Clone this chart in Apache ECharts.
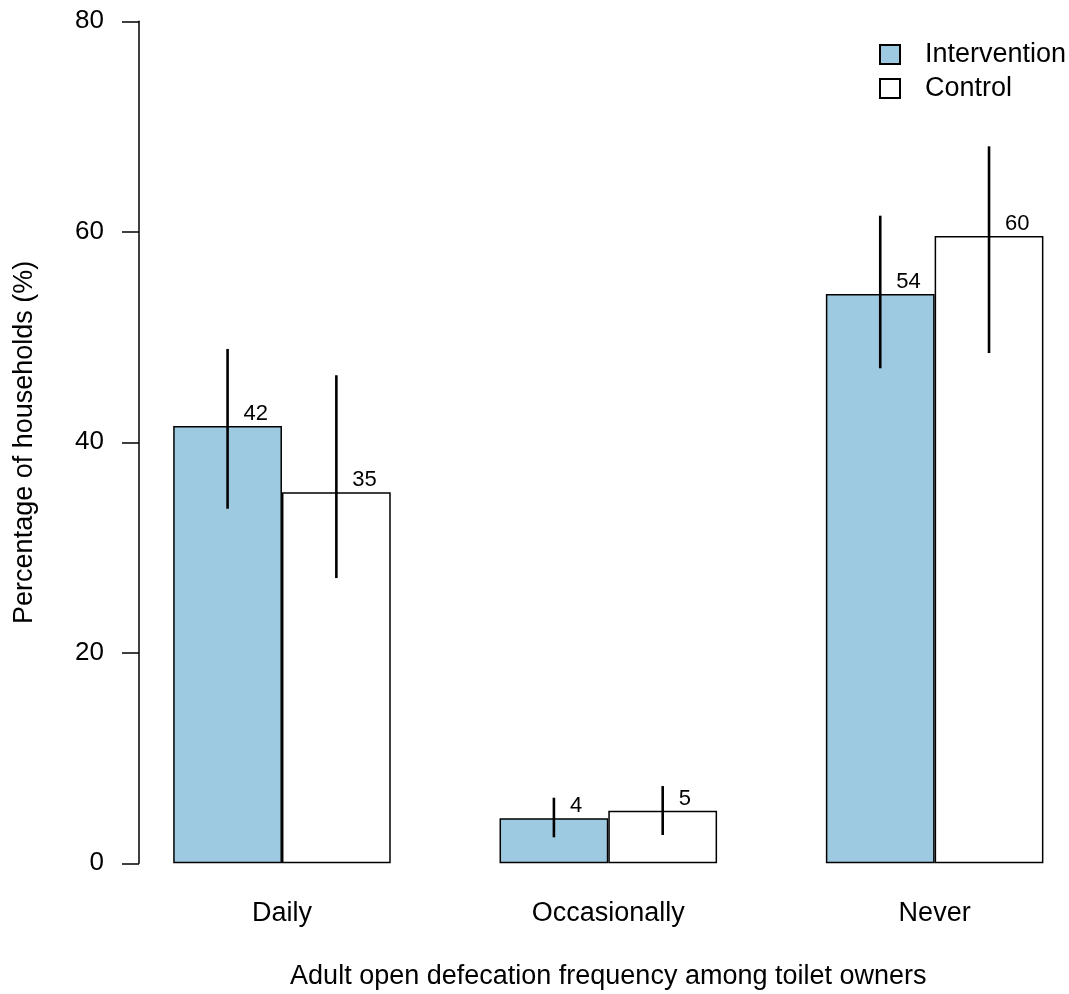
<!DOCTYPE html>
<html>
<head>
<meta charset="utf-8">
<script src="https://cdn.jsdelivr.net/npm/echarts@6/dist/echarts.min.js"></script>
<style>
  html, body { margin: 0; padding: 0; background: #ffffff; }
  #chart { width: 1069px; height: 994px; }
</style>
</head>
<body>
<div id="chart"></div>
<script>
// Adult open defecation frequency among toilet owners, by study arm
const categories = ['Daily', 'Occasionally', 'Never'];
const seriesNames = ['Intervention', 'Control'];

// Percentage of households
const intervention = [41.55, 4.28, 54.09];
const control = [35.25, 5.0, 59.6];

// 95% confidence interval bounds
const interventionLow = [33.69, 2.47, 47.03];
const interventionHigh = [48.87, 6.23, 61.53];
const controlLow = [27.1, 2.69, 48.48];
const controlHigh = [46.37, 7.34, 68.12];

// y axis ticks
const yTicks = [0, 20, 40, 60, 80];

const FONT = "'Liberation Sans', Arial, Helvetica, sans-serif";
const chart = echarts.init(document.getElementById('chart'), null, { renderer: 'canvas' });

// Error bar plus rounded value label, drawn at the centre of the matching bar.
// side = -1 for the left bar of a group, +1 for the right bar.
function errorBarSeries(name, values, low, high, side) {
  return {
    name: name + ' CI',
    type: 'custom',
    z: 5,
    data: categories.map((c, i) => [i, values[i], low[i], high[i]]),
    renderItem: function (params, api) {
      const idx = api.value(0);
      const band = api.size([1, 0])[0];
      const barW = band / 3;
      const centre = api.coord([idx, 0]);
      const x = centre[0] + side * barW / 2;
      const top = api.coord([idx, api.value(1)])[1];
      const lo = api.coord([idx, api.value(2)])[1];
      const hi = api.coord([idx, api.value(3)])[1];
      return {
        type: 'group',
        children: [
          {
            type: 'line',
            shape: { x1: x, y1: lo, x2: x, y2: hi },
            style: { stroke: '#000000', lineWidth: 2.6 }
          },
          {
            type: 'text',
            x: x + 16,
            y: top - 1,
            style: {
              text: String(Math.round(api.value(1))),
              fill: '#000000',
              font: '22px ' + FONT,
              textAlign: 'left',
              textVerticalAlign: 'bottom'
            }
          }
        ]
      };
    }
  };
}

const option = {
  backgroundColor: '#ffffff',
  animation: false,
  textStyle: { fontFamily: FONT, color: '#000000' },
  // the category band runs past the right edge so that bar groups keep R-style spacing
  grid: {
    left: 118.8,
    width: 979,
    top: 21.3,
    bottom: 130.7,
    containLabel: false,
    outerBoundsMode: 'none'
  },
  legend: {
    orient: 'vertical',
    left: 879,
    top: 41,
    padding: 0,
    itemWidth: 20,
    itemHeight: 19,
    itemGap: 7,
    icon: 'rect',
    data: seriesNames,
    textStyle: { fontSize: 27, color: '#000000', fontFamily: FONT, padding: [0, 0, 0, 20] }
  },
  xAxis: {
    type: 'category',
    data: categories,
    axisLine: { show: false },
    axisTick: { show: false },
    axisLabel: { fontSize: 27, color: '#000000', margin: 37, fontFamily: FONT },
    name: 'Adult open defecation frequency among toilet owners',
    nameLocation: 'middle',
    nameGap: 100,
    nameTextStyle: { fontSize: 27, color: '#000000', fontFamily: FONT }
  },
  yAxis: {
    type: 'value',
    min: yTicks[0],
    max: yTicks[yTicks.length - 1],
    interval: yTicks[1] - yTicks[0],
    offset: -20.2,
    splitLine: { show: false },
    axisLine: { show: true, lineStyle: { color: '#000000', width: 1.5 } },
    axisTick: { show: true, inside: false, length: 17, lineStyle: { color: '#000000', width: 1.5 } },
    axisLabel: { fontSize: 26, color: '#000000', margin: 35, fontFamily: FONT },
    name: 'Percentage of households (%)',
    nameLocation: 'middle',
    nameGap: 101,
    nameTextStyle: { fontSize: 27, color: '#000000', fontFamily: FONT }
  },
  series: [
    {
      name: seriesNames[0],
      type: 'bar',
      data: intervention,
      barGap: '0%',
      barCategoryGap: '33.333%',
      itemStyle: { color: '#9ECAE1', borderColor: '#000000', borderWidth: 1.5 }
    },
    {
      name: seriesNames[1],
      type: 'bar',
      data: control,
      barGap: '0%',
      barCategoryGap: '33.333%',
      itemStyle: { color: '#ffffff', borderColor: '#000000', borderWidth: 1.5 }
    },
    errorBarSeries(seriesNames[0], intervention, interventionLow, interventionHigh, -1),
    errorBarSeries(seriesNames[1], control, controlLow, controlHigh, 1)
  ]
};

chart.setOption(option);
</script>
</body>
</html>
